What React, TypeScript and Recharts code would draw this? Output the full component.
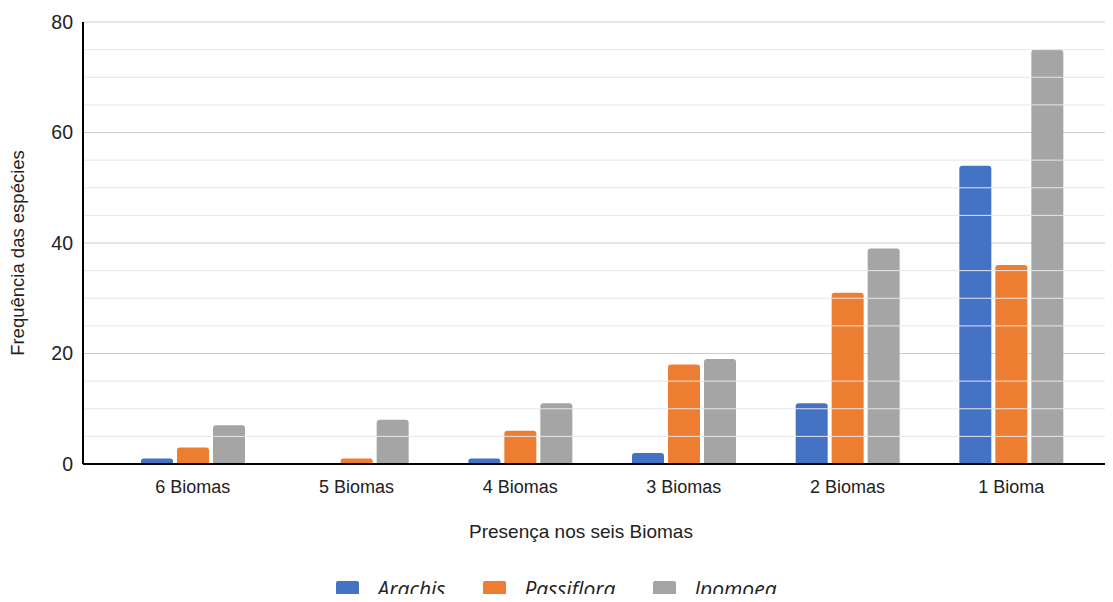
import { BarChart, Bar, XAxis, YAxis, CartesianGrid, ReferenceLine } from 'recharts';

const categories = ['6 Biomas', '5 Biomas', '4 Biomas', '3 Biomas', '2 Biomas', '1 Bioma'];
const arachis = [1, 0, 1, 2, 11, 54];
const passiflora = [3, 1, 6, 18, 31, 36];
const ipomoea = [7, 8, 11, 19, 39, 75];
const yTicks = [0, 20, 40, 60, 80];
const minorTicks = [5, 10, 15, 25, 30, 35, 45, 50, 55, 65, 70, 75];

const series = [
  { key: 'arachis', name: 'Arachis', color: '#4472C4' },
  { key: 'passiflora', name: 'Passiflora', color: '#ED7D31' },
  { key: 'ipomoea', name: 'Ipomoea', color: '#A5A5A5' },
];

const data = categories.map((c, i) => ({
  name: c,
  arachis: arachis[i],
  passiflora: passiflora[i],
  ipomoea: ipomoea[i],
}));

const font = '"Liberation Sans", Arial, sans-serif';

const App = () => {
  return (
    <div style={{ position: 'relative', width: 1113, height: 602, margin: -8, overflow: 'hidden', background: '#fff' }}>
      <BarChart
        width={1113}
        height={602}
        data={data}
        margin={{ top: 22, right: 0, bottom: 108, left: 0 }}
        barSize={32}
        barGap={4}
      >
        <CartesianGrid vertical={false} stroke="#cccccc" strokeWidth={1} />
        {minorTicks.map((v) => (
          <ReferenceLine key={v} y={v} stroke="#e6e6e6" strokeWidth={1} />
        ))}
        <XAxis
          dataKey="name"
          height={30}
          padding={{ left: 28, right: 20 }}
          tickLine={false}
          axisLine={{ stroke: '#000', strokeWidth: 2 }}
          tick={{ fill: '#222', fontSize: 18, fontFamily: font }}
          tickMargin={10}
          label={{
            content: () => (
              <text x={581} y={538} textAnchor="middle" fill="#222" fontSize={19} fontFamily={font}>
                Presença nos seis Biomas
              </text>
            ),
          }}
        />
        <YAxis
          width={83}
          domain={[0, 80]}
          ticks={yTicks}
          tickLine={false}
          axisLine={{ stroke: '#000', strokeWidth: 2 }}
          tick={{ fill: '#222', fontSize: 19.5, fontFamily: font }}
          tickMargin={4}
          label={{
            content: () => (
              <text
                x={24}
                y={253}
                transform="rotate(-90 24 253)"
                textAnchor="middle"
                fill="#222"
                fontSize={18.5}
                fontFamily={font}
              >
                Frequência das espécies
              </text>
            ),
          }}
        />
        {series.map((s) => (
          <Bar key={s.key} dataKey={s.key} name={s.name} fill={s.color} radius={[3, 3, 0, 0]} isAnimationActive={false} />
        ))}
      </BarChart>
      <div
        style={{
          position: 'absolute',
          top: 576,
          left: 0,
          width: 1113,
          display: 'flex',
          justifyContent: 'center',
          gap: 38,
          fontFamily: '"Open Sans", sans-serif',
          fontStyle: 'italic',
          fontSize: 21,
          color: '#222',
        }}
      >
        {series.map((s) => (
          <div key={s.key} style={{ display: 'flex', alignItems: 'flex-start', gap: 18 }}>
            <div style={{ width: 23, height: 23, marginTop: 5, background: s.color, borderRadius: 2 }} />
            <span style={{ lineHeight: '26px' }}>{s.name}</span>
          </div>
        ))}
      </div>
    </div>
  );
};

export default App;
